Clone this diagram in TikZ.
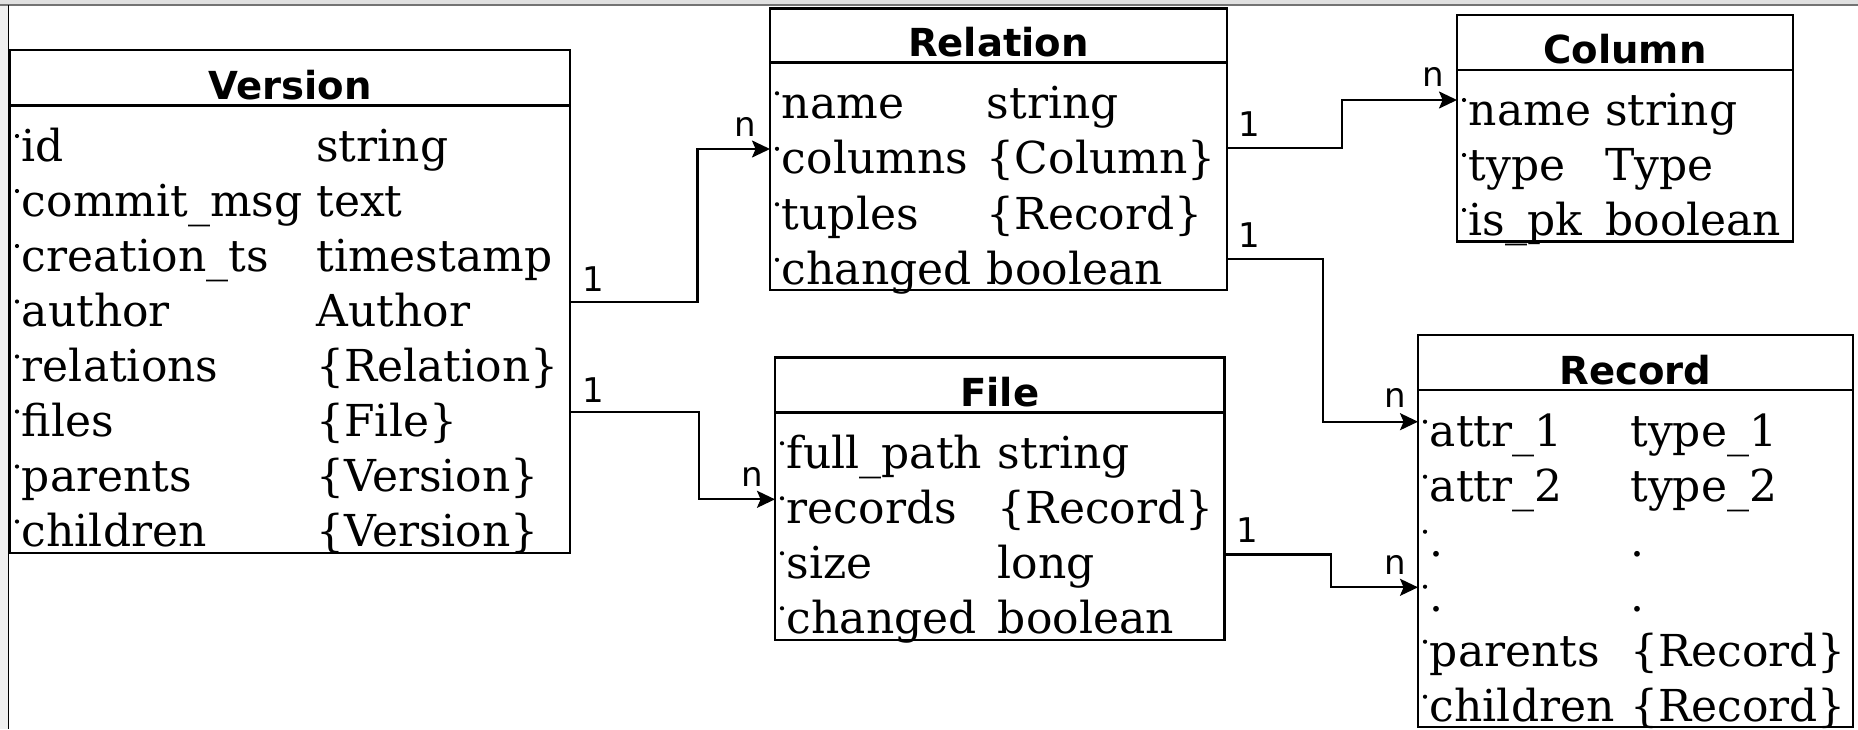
\documentclass[tikz,border=0pt]{standalone}
\usepackage{fontspec}
\usetikzlibrary{arrows.meta,calc}
\newfontfamily\cellfam{DejaVu Serif}
\newfontfamily\dvsans{DejaVu Sans}
\newcommand\cellfont{\cellfam\fontsize{22}{27}\selectfont}
\newcommand\ttlfont{\dvsans\bfseries\fontsize{19.3}{23}\selectfont}
\newcommand\labfont{\dvsans\fontsize{17}{20}\selectfont}
% #1 prefix, #2 box left, #3 type x, #4 baseline, #5 name, #6 type
\newcommand\umlrow[6]{%
  \fill ({#2+7},{#4-25}) circle[radius=1.05pt];
  \node[cell] (#1n) at ({#2+11.5},{#4}) {#5};
  \node[cell] (#1t) at ({#3},{#4}) {#6};
}
\begin{document}
\begin{tikzpicture}[x=0.5pt,y=-0.5pt,
  box/.style={draw, line width=1.3pt, inner sep=0pt, outer sep=0pt, anchor=north west, fill=none},
  sepline/.style={line width=1.3pt},
  ttl/.style={font=\ttlfont, anchor=base, inner sep=0pt},
  cell/.style={font=\cellfont, anchor=base west, inner sep=0pt},
  lab/.style={font=\labfont, inner sep=0pt, anchor=center},
  conn/.style={line width=1.1pt, -{Stealth[length=9pt,width=8.5pt,inset=1.8pt]}}]
\useasboundingbox (0,0) rectangle (1858,729);
% screenshot frame
\fill[black!12] (0,0) rectangle (1858,5);
\fill[black!6] (0,5) rectangle (7.5,729);
\draw[black!55, line width=0.6pt] (0,5) -- (1858,5);
\draw[black, line width=0.9pt] (8.5,5) -- (8.5,729);

% ---------- Version ----------
\node[box, minimum width=280pt, minimum height=251.5pt] (version) at (10,50) {};
\draw[sepline] ([yshift=-27.75pt]version.north west) -- ([yshift=-27.75pt]version.north east);
\node[ttl] (versiont) at (290,99.5) {Version};
\umlrow{v1}{10}{316}{161}{id}{string}
\umlrow{v2}{10}{316}{216}{commit\_msg}{text}
\umlrow{v3}{10}{316}{271}{creation\_ts}{timestamp}
\umlrow{v4}{10}{316}{326.5}{author}{Author}
\umlrow{v5}{10}{316}{381.5}{relations}{\{Relation\}}
\umlrow{v6}{10}{316}{436.5}{files}{\{File\}}
\umlrow{v7}{10}{316}{491.5}{parents}{\{Version\}}
\umlrow{v8}{10}{316}{546.5}{children}{\{Version\}}

% ---------- Relation ----------
\node[box, minimum width=228.5pt, minimum height=140.85pt] (relation) at (770,8.3) {};
\draw[sepline] ([yshift=-27.2pt]relation.north west) -- ([yshift=-27.2pt]relation.north east);
\node[ttl] (relationt) at (998.5,56.7) {Relation};
\umlrow{r1}{770}{986.5}{118.3}{name}{string}
\umlrow{r2}{770}{986.5}{173.8}{columns}{\{Column\}}
\umlrow{r3}{770}{986.5}{229.3}{tuples}{\{Record\}}
\umlrow{r4}{770}{986.5}{284.8}{changed}{boolean}

% ---------- Column ----------
\node[box, minimum width=168pt, minimum height=113.35pt] (column) at (1457,15) {};
\draw[sepline] ([yshift=-27.5pt]column.north west) -- ([yshift=-27.5pt]column.north east);
\node[ttl] (columnt) at (1625,63.5) {Column};
\umlrow{c1}{1457}{1605}{125}{name}{string}
\umlrow{c2}{1457}{1605}{180}{type}{Type}
\umlrow{c3}{1457}{1605}{235}{is\_pk}{boolean}

% ---------- File ----------
\node[box, minimum width=224.65pt, minimum height=141.35pt] (file) at (775,357.3) {};
\draw[sepline] ([yshift=-27.5pt]file.north west) -- ([yshift=-27.5pt]file.north east);
\node[ttl] (filet) at (999.7,406.5) {File};
\umlrow{f1}{775}{997.5}{468.3}{full\_path}{string}
\umlrow{f2}{775}{997.5}{523.3}{records}{\{Record\}}
\umlrow{f3}{775}{997.5}{578.3}{size}{long}
\umlrow{f4}{775}{997.5}{633.3}{changed}{boolean}

% ---------- Record ----------
\node[box, minimum width=217.5pt, minimum height=196pt] (record) at (1418,335) {};
\draw[sepline] ([yshift=-27.5pt]record.north west) -- ([yshift=-27.5pt]record.north east);
\node[ttl] (recordt) at (1635.5,384.5) {Record};
\umlrow{d1}{1418}{1630}{446.7}{attr\_1}{type\_1}
\umlrow{d2}{1418}{1630}{501.7}{attr\_2}{type\_2}
\umlrow{d3}{1418}{1630}{556.7}{.}{.}
\umlrow{d4}{1418}{1630}{611.7}{.}{.}
\umlrow{d5}{1418}{1630}{666.7}{parents}{\{Record\}}
\umlrow{d6}{1418}{1630}{721.7}{children}{\{Record\}}

% ---------- connectors ----------
\draw[conn] ([yshift=-126pt]version.north east) -- ++(127.5,0) |- ([yshift=-70.35pt]relation.north west);
\draw[conn] ([yshift=-180.85pt]version.north east) -- ++(129,0) |- ([yshift=-71pt]file.north west);
\draw[conn] ([yshift=-70pt]relation.north east) -- ++(114.8,0) |- ([yshift=-42.5pt]column.north west);
\draw[conn] ([yshift=-125.5pt]relation.north east) -- ++(96,0) |- ([yshift=-43.35pt]record.north west);
\draw[conn] ([yshift=-98.6pt]file.north east) -- ++(107,0) |- ([yshift=-126.15pt]record.north west);

% ---------- multiplicities ----------
\node[lab] (l1a) at (593.5,279) {1};
\node[lab] (l1b) at (745,127) {n};
\node[lab] (l2a) at (593.5,390) {1};
\node[lab] (l2b) at (752,477) {n};
\node[lab] (l3a) at (1249.5,124) {1};
\node[lab] (l3b) at (1433,77) {n};
\node[lab] (l4a) at (1249.5,235) {1};
\node[lab] (l4b) at (1395,398) {n};
\node[lab] (l5a) at (1247,530) {1};
\node[lab] (l5b) at (1395,565) {n};
\end{tikzpicture}
\end{document}
